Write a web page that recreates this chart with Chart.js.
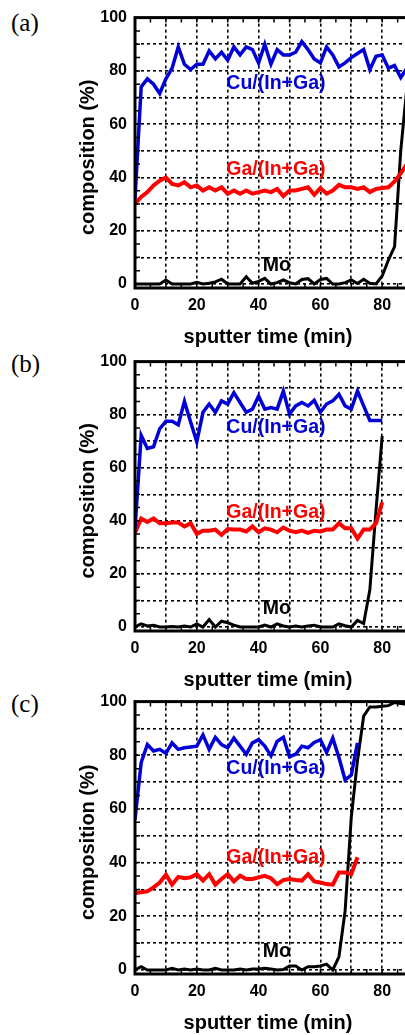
<!DOCTYPE html>
<html>
<head>
<meta charset="utf-8">
<script src="https://cdn.jsdelivr.net/npm/chart.js@4.4.1/dist/chart.umd.min.js"></script>
<style>
  html, body { margin: 0; padding: 0; background: #fff; overflow: hidden; }
  body { width: 405px; height: 1035px; position: relative; }
  canvas { position: absolute; left: 0; }
  .tag { position: absolute; left: 11px; font: 25px/25px "Liberation Serif", "Times New Roman", serif; color: #000; }
</style>
</head>
<body>
<div class="tag" style="top:10px">(a)</div>
<div class="tag" style="top:351px">(b)</div>
<div class="tag" style="top:691px">(c)</div>
<canvas id="chart-a" style="top:0px"></canvas>
<canvas id="chart-b" style="top:344px"></canvas>
<canvas id="chart-c" style="top:684px"></canvas>
<script>
// (a)
const timeA = [0, 2, 4, 6, 8, 10, 12, 14, 16, 18, 20, 22, 24, 26, 28, 30, 32, 34, 36, 38, 40, 42, 44,
	46, 48, 50, 52, 54, 56, 58, 60, 62, 64, 66, 68, 70, 72, 74, 76, 78, 80, 82, 84, 86, 88];
const cuA = [32, 74, 77, 75, 71.5, 77, 81, 89, 82.5, 80.5, 82.5, 82.5, 87.5, 84.5, 87, 84, 89, 86, 89, 88,
	83, 90, 82.5, 88, 86, 86, 87, 91, 88, 84.5, 83, 89, 86, 81.5, 83, 85, 86.5, 88, 80.5, 85.5, 86, 81, 82, 77.5, 81];
const gaA = [30.2, 32.7, 34.5, 37, 38.8, 40, 37.6, 37, 38.2, 36.3, 37, 35.1, 36.3, 35.1, 36.3, 33.9, 35.1, 33.9,
	35.1, 33.9, 34.5, 35.1, 34.5, 35.7, 33, 35.1, 35.1, 35.7, 36.3, 33.5, 36, 33.9, 35.1, 37.2, 36.3, 36.3, 35.7,
	36.3, 34.5, 35.7, 36, 36.3, 38.5, 41.5, 45];
const moA = [0, 0, 0, 0, 0, 1.5, 0, 0, 0, 0, 0.6, 0, 0.3, 0.8, 1.8, 0, 0, 0, 2.7, 0.3, 1, 2.1, 0, 0.5, 1.5,
	0.5, 0, 1.7, 2, 0, 1.7, 2.1, 0, 0, 0.5, 1.5, 0.2, 1.8, 0.3, 0, 3, 9, 14, 50, 74];

// (b)
const timeB = [0, 2, 4, 6, 8, 10, 12, 14, 16, 18, 20, 22, 24, 26, 28, 30, 32, 34, 36, 38, 40, 42, 44,
	46, 48, 50, 52, 54, 56, 58, 60, 62, 64, 66, 68, 70, 72, 74, 76, 78, 80];
const cuB = [37, 72.2, 67.3, 67.9, 74.7, 77.5, 77.5, 76.2, 85, 77.2, 69.8, 80.9, 84, 80.9, 85.2, 84, 88.3, 84.6,
	80.9, 82.1, 87, 82.1, 82.7, 82.1, 88.9, 80.2, 83.3, 84.6, 83.3, 85.4, 80.9, 84, 85.2, 87.7, 83.3, 82.1, 88.9,
	83.3, 77.8, 77.8, 77.8];
const gaB = [35.5, 40.9, 39.6, 40.9, 39.1, 39.1, 39.4, 39.4, 37.9, 39.1, 35.1, 36.3, 36.3, 36.7, 34.7, 36.9, 36.7,
	36.7, 36, 37.9, 35.7, 37.2, 36.7, 35.7, 37.5, 36.3, 35.7, 36.3, 35.5, 36.3, 36, 36.7, 36.7, 39.1, 37.2, 37.2,
	33.3, 36.7, 36.7, 39.1, 47];
const moB = [0, 1.2, 0.4, 0.7, 0, 0, 0.2, 0, 0.4, 0, 1.2, 0, 2.8, 0, 2.2, 1.6, 0.7, 0, 0, 0, 0, 0.7, 0, 1.2, 0.4,
	0, 0.4, 0, 0.4, 0.7, 0, 0, 0, 1.2, 0.5, 0, 2.5, 1.3, 14, 44, 72];

// (c)
const timeC = [0, 2, 4, 6, 8, 10, 12, 14, 16, 18, 20, 22, 24, 26, 28, 30, 32, 34, 36, 38, 40, 42, 44,
	46, 48, 50, 52, 54, 56, 58, 60, 62, 64, 66, 68, 70, 72];
const cuC = [56, 77.3, 84, 81.6, 82.2, 80.7, 84.6, 82.2, 82.8, 83.1, 83.4, 87.6, 82.2, 86.7, 84, 82.8, 86.4, 83.4,
	80.4, 84.6, 85.8, 83.4, 79.8, 85.2, 86.7, 79.5, 80.4, 83.4, 82.8, 84.8, 85.8, 81, 86.4, 79.2, 70.8, 72.6, 84.6];
const gaC = [28.6, 29, 29.3, 30.8, 32.6, 35.5, 31.8, 34.7, 34.2, 34.5, 35.7, 33.3, 35.7, 31.8, 33.9, 35.7, 33, 35.1,
	33.9, 33.9, 34.5, 35.1, 34.2, 32, 33.5, 33.9, 33.5, 33.3, 35.7, 33, 32.6, 32, 31.8, 36.3, 36.3, 35.7, 42];
const timeMoC = [0, 2, 4, 6, 8, 10, 12, 14, 16, 18, 20, 22, 24, 26, 28, 30, 32, 34, 36, 38, 40, 42, 44,
	46, 48, 50, 52, 54, 56, 58, 60, 62, 64, 66, 68, 70, 72, 74, 76, 78, 80, 82, 84, 86, 88];
const moC = [0, 1.2, 0, 0, 0, 0, 0.6, 0, 0.4, 0, 0.4, 0, 0, 0.6, 0, 0, 0, 0.4, 0, 0.4, 0.4, 0.6, 0.4, 0, 0.2,
	1.5, 1.5, 0, 1.2, 1.2, 1.5, 2.2, 0, 4.9, 22, 57, 78, 94.6, 98, 98, 98.3, 98.5, 99.7, 99.3, 99];

// curve labels (x in min, y in %)
const labelNames = ['Cu/(In+Ga)', 'Ga/(In+Ga)', 'Mo'];
const labelX = [45.6, 45.6, 45.9];
const labelYA = [75.3, 42.8, 7];
const labelYB = [75.2, 43, 7];
const labelYC = [75, 42, 6.7];

const xTitle = 'sputter time (min)';
const yTitle = 'composition (%)';

const blue = 'rgb(0, 0, 215)';
const red = 'rgb(255, 0, 0)';
const black = '#000';
const labelColors = [blue, red, black];

const sans = '"Liberation Sans", Arial, sans-serif';

function pts(t, v) {
	return t.map((x, i) => ({ x: x, y: v[i] }));
}

// plot frame + small inward ticks
const frame = {
	id: 'frame',
	afterDatasetsDraw(chart) {
		const { ctx, chartArea: a, scales: { x, y } } = chart;
		ctx.save();
		ctx.strokeStyle = '#000';
		ctx.lineWidth = 1.5;
		ctx.beginPath();
		for (let v = 5; v < 100; v += 5) {
			const px = x.getPixelForValue(v);
			ctx.moveTo(px, a.bottom); ctx.lineTo(px, a.bottom - 5);
			ctx.moveTo(px, a.top); ctx.lineTo(px, a.top + 5);
			const py = y.getPixelForValue(v);
			ctx.moveTo(a.left, py); ctx.lineTo(a.left + 5, py);
		}
		ctx.stroke();
		ctx.lineWidth = 3;
		ctx.strokeRect(a.left, a.top, a.right - a.left, a.bottom - a.top);
		ctx.restore();
	}
};

// curve labels and axis titles
function notes(ys) {
	return {
		id: 'notes',
		afterDraw(chart) {
			const { ctx, chartArea: a, scales: { x, y } } = chart;
			ctx.save();
			ctx.font = 'bold 19.5px ' + sans;
			ctx.textAlign = 'center';
			ctx.textBaseline = 'middle';
			labelNames.forEach((s, i) => {
				ctx.fillStyle = labelColors[i];
				ctx.fillText(s, x.getPixelForValue(labelX[i]), y.getPixelForValue(ys[i]));
			});
			ctx.fillStyle = '#000';
			ctx.font = 'bold 20px ' + sans;
			ctx.fillText(xTitle, 268, a.bottom + 49);
			ctx.translate(88, (a.top + a.bottom) / 2 + 4.5);
			ctx.rotate(-Math.PI / 2);
			ctx.fillText(yTitle, 0, 0);
			ctx.restore();
		}
	};
}

function panel(id, areaH, sets, ys) {
	const canvas = document.getElementById(id);
	canvas.width = 464;
	canvas.height = 13 + areaH + 60;
	new Chart(canvas, {
		type: 'line',
		data: {
			datasets: [
				{ data: sets[0], borderColor: blue, borderWidth: 3.5 },
				{ data: sets[1], borderColor: red, borderWidth: 4 },
				{ data: sets[2], borderColor: black, borderWidth: 3 }
			]
		},
		options: {
			responsive: false,
			animation: false,
			layout: { padding: { top: 13, right: 20, bottom: 0, left: 0 } },
			elements: { point: { radius: 0 }, line: { tension: 0, fill: false } },
			plugins: { legend: { display: false }, tooltip: { enabled: false } },
			scales: {
				x: {
					type: 'linear',
					min: 0,
					max: 100,
					afterFit(s) { s.height = 60; },
					grid: { color: '#000', lineWidth: 1.6, drawTicks: false },
					border: { display: false, dash: [3, 3] },
					ticks: {
						stepSize: 10,
						autoSkip: false,
						maxRotation: 0,
						includeBounds: false,
						padding: 8,
						color: '#000',
						font: { family: sans, size: 16, weight: 'bold' },
						callback: (v) => (v % 20 === 0 && v < 100 ? v : '')
					}
				},
				y: {
					min: -1.5,
					max: 100,
					afterFit(s) { s.width = 135; },
					grid: { color: '#000', lineWidth: 1.6, drawTicks: false },
					border: { display: false, dash: [3, 3] },
					ticks: {
						stepSize: 10,
						includeBounds: false,
						padding: 8,
						color: '#000',
						font: { family: sans, size: 16, weight: 'bold' },
						callback: (v) => (v % 20 === 0 ? v : '')
					}
				}
			}
		},
		plugins: [frame, notes(ys)]
	});
}

panel('chart-a', 275, [pts(timeA, cuA), pts(timeA, gaA), pts(timeA, moA)], labelYA);
panel('chart-b', 274, [pts(timeB, cuB), pts(timeB, gaB), pts(timeB, moB)], labelYB);
panel('chart-c', 277, [pts(timeC, cuC), pts(timeC, gaC), pts(timeMoC, moC)], labelYC);
</script>
</body>
</html>
